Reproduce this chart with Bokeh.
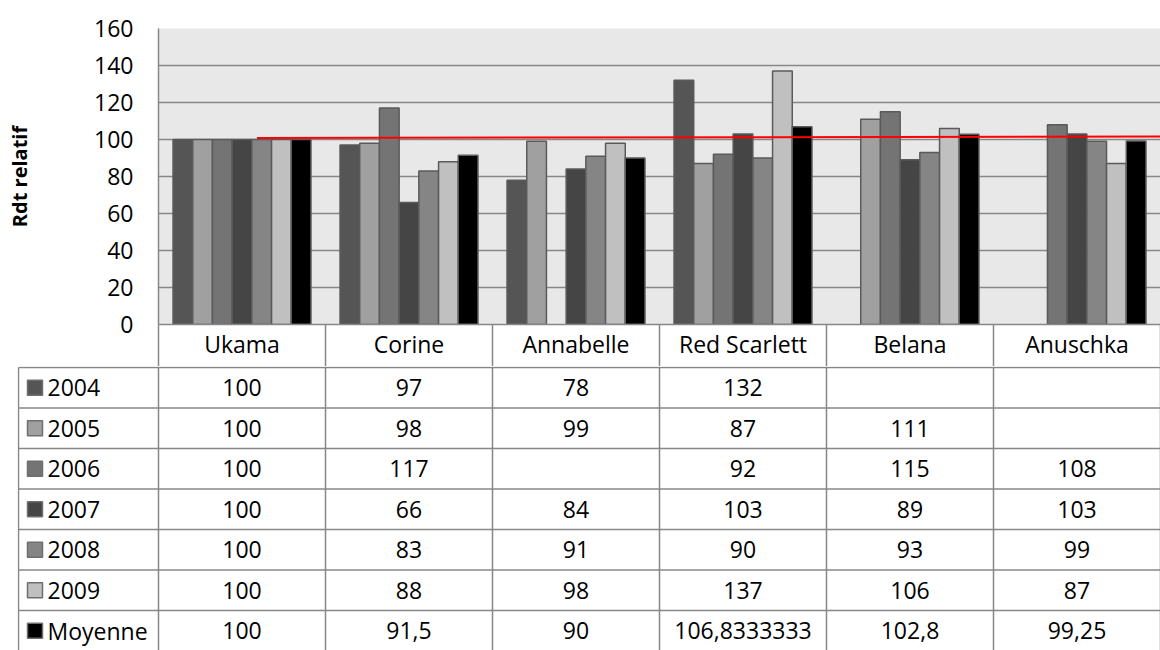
from bokeh.plotting import figure
from bokeh.models import ColumnDataSource, Range1d, FixedTicker
from bokeh.layouts import column
from bokeh.core.properties import value
from bokeh.embed import file_html
from bokeh.resources import INLINE

# ---------------- data ----------------
categories = ["Ukama", "Corine", "Annabelle", "Red Scarlett", "Belana", "Anuschka"]
series_names = ["2004", "2005", "2006", "2007", "2008", "2009", "Moyenne"]
y2004 = [100, 97, 78, 132, None, None]
y2005 = [100, 98, 99, 87, 111, None]
y2006 = [100, 117, None, 92, 115, 108]
y2007 = [100, 66, 84, 103, 89, 103]
y2008 = [100, 83, 91, 90, 93, 99]
y2009 = [100, 88, 98, 137, 106, 87]
moyenne = [100, 91.5, 90, 106.8333333, 102.8, 99.25]
y_ticks = [0, 20, 40, 60, 80, 100, 120, 140, 160]
trend_x = [0.59, 6.0]
trend_y = [100.8, 101.6]

series = [y2004, y2005, y2006, y2007, y2008, y2009, moyenne]
colors = ["#555555", "#a0a0a0", "#747474", "#454545", "#858585", "#c0c0c0", "#000000"]

FONT = "Open Sans"
GRID = "#878787"
ncat = len(categories)
nser = len(series)

# ---------------- layout numbers ----------------
W = 1160
TOTAL_H = 650
LEFT1 = 158          # plot frame left (figure px)
TOP1 = 28
FRAME_H = 296
HEADER_H = 42
H1 = TOP1 + FRAME_H + HEADER_H
H2 = TOTAL_H - H1
cat_px = (W - LEFT1) / ncat
LEFT2 = 17
legend_w_units = (LEFT1 - LEFT2 - 1) / cat_px
ROW_PX = 40.5

bar_w = 0.118

# ---------------- chart figure ----------------
p = figure(width=W, height=H1, output_backend="svg", toolbar_location=None,
           x_range=Range1d(0, ncat), y_range=Range1d(0, 160),
           min_border_left=LEFT1, min_border_right=0, min_border_top=TOP1,
           min_border_bottom=HEADER_H)
p.frame_align = False
p.background_fill_color = "#e8e8e8"
p.border_fill_color = "white"
p.outline_line_color = None

for i, (vals, col) in enumerate(zip(series, colors)):
    xs, tops = [], []
    for j, v in enumerate(vals):
        if v is not None:
            xs.append(j + 0.5 + (i - (nser - 1) / 2) * bar_w)
            tops.append(v)
    src = ColumnDataSource(dict(x=xs, top=tops))
    p.vbar(x="x", top="top", bottom=0, width=bar_w, source=src,
           fill_color=col, line_color="#5a5a5a", line_width=1.5)

p.line(trend_x, trend_y, line_color="#ff0000", line_width=2)

p.xgrid.visible = False
p.ygrid.ticker = FixedTicker(ticks=y_ticks)
p.ygrid.grid_line_color = GRID
p.ygrid.grid_line_width = 1.5

ya = p.yaxis[0]
ya.ticker = FixedTicker(ticks=y_ticks)
ya.major_tick_out = 0
ya.major_tick_in = 0
ya.minor_tick_out = 0
ya.axis_line_color = GRID
ya.axis_line_width = 1.5
ya.major_label_text_font = FONT
ya.major_label_text_font_size = "23px"
ya.major_label_text_color = "black"
ya.major_label_standoff = 25
ya.axis_label = "Rdt relatif"
ya.axis_label_text_font = FONT
ya.axis_label_text_font_size = "20px"
ya.axis_label_text_font_style = "bold"
ya.axis_label_text_color = "black"
ya.axis_label_standoff = 58

xa = p.xaxis[0]
xa.ticker = FixedTicker(ticks=[j + 0.5 for j in range(ncat)],
                        minor_ticks=list(range(ncat + 1)))
xa.major_label_overrides = {j + 0.5: c for j, c in enumerate(categories)}
xa.major_tick_out = 0
xa.major_tick_in = 0
xa.minor_tick_out = HEADER_H
xa.minor_tick_in = 0
xa.minor_tick_line_color = GRID
xa.minor_tick_line_width = 1.5
xa.axis_line_color = GRID
xa.axis_line_width = 1.5
xa.major_label_text_font = FONT
xa.major_label_text_font_size = "23px"
xa.major_label_text_color = "black"
xa.major_label_standoff = 3 - HEADER_H

# ---------------- table figure ----------------
nrows = len(series_names)
y_top = 1.0 / ROW_PX
t = figure(width=W, height=H2, output_backend="svg", toolbar_location=None,
           x_range=Range1d(-(LEFT1 - LEFT2) / cat_px, ncat),
           y_range=Range1d(y_top - H2 / ROW_PX, y_top),
           x_axis_location=None, y_axis_location=None,
           min_border_left=LEFT2, min_border_right=0, min_border_top=0,
           min_border_bottom=0)
t.frame_align = False
t.grid.visible = False
t.outline_line_color = None
t.background_fill_color = "white"
t.border_fill_color = "white"

x0 = -legend_w_units
# horizontal lines
hx0, hx1, hy = [], [], []
for r in range(nrows + 1):
    hx0.append(x0); hx1.append(ncat); hy.append(-r)
t.segment(x0=hx0, y0=hy, x1=hx1, y1=hy, line_color=GRID, line_width=1.5)
# vertical lines
vx = [x0] + list(range(ncat + 1))
t.segment(x0=vx, y0=[0] * len(vx), x1=vx, y1=[-nrows] * len(vx),
          line_color=GRID, line_width=1.5)


def fmt(v):
    if v is None:
        return ""
    if float(v).is_integer():
        return str(int(v))
    return str(v).replace(".", ",")


tx, ty, tt = [], [], []
for i, vals in enumerate(series):
    for j, v in enumerate(vals):
        s = fmt(v)
        if s:
            tx.append(j + 0.5); ty.append(-(i + 0.5)); tt.append(s)
t.text(x=tx, y=ty, text=tt, text_align="center", text_baseline="middle",
       text_font=value(FONT), text_font_size="23px", text_color="black")

row_y = [-(i + 0.5) for i in range(nrows)]
sw_x = x0 + 16.5 / cat_px
t.scatter(x=[sw_x] * nrows, y=row_y, marker="square", size=15,
          fill_color=colors, line_color="#6e6e6e", line_width=1.5)
lab_x = x0 + 29 / cat_px
t.text(x=[lab_x] * nrows, y=row_y, text=series_names, text_align="left",
       text_baseline="middle", text_font=value(FONT), text_font_size="23px",
       text_color="black")

layout = column(p, t, spacing=0)
open("out.html", "w").write(file_html(layout, INLINE))
